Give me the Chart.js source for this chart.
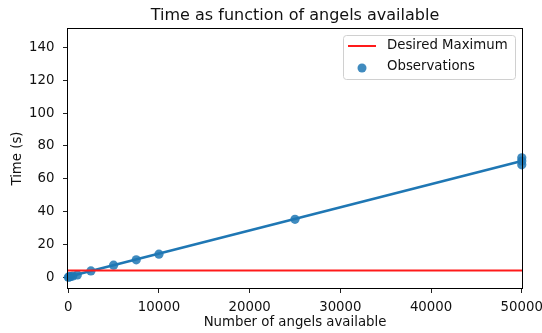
<!DOCTYPE html>
<html>
<head>
<meta charset="utf-8">
<script src="https://cdn.jsdelivr.net/npm/chart.js@4.4.1/dist/chart.umd.min.js"></script>
<style>
  html, body { margin: 0; padding: 0; background: #fff; }
  #wrap { width: 542px; height: 333px; }
</style>
</head>
<body>
<div id="wrap"><canvas id="c" width="542" height="333"></canvas></div>
<script>
// ---- data ----
const angels = [10, 100, 250, 500, 1000, 2500, 5000, 7500, 10000, 25000, 50000, 50000, 50000];
const times  = [0.0, 0.15, 0.35, 0.7, 1.4, 3.8, 7.3, 10.6, 14.0, 35.3, 68.5, 70.8, 72.8];
const fitX = [0, 50000];
const fitY = [0.2, 70.8];
const desiredMax = 4;
const xTicks = [0, 10000, 20000, 30000, 40000, 50000];
const yTicks = [0, 20, 40, 60, 80, 100, 120, 140];
const xRange = [-80, 50080];
const yRange = [-6.9, 151.6];
const labels = { title: 'Time as function of angels available', x: 'Number of angels available', y: 'Time (s)', legendLine: 'Desired Maximum', legendDots: 'Observations' };

const FONT = "'DejaVu Sans', sans-serif";
const FS = 13.3;
const BLUE = '#1f77b4';
const DOT = 'rgba(31,119,180,0.85)';
const RED = '#ff1a1a';

const scatterPts = angels.map((a, i) => ({ x: a, y: times[i] }));
const fitPts = fitX.map((a, i) => ({ x: a, y: fitY[i] }));
const redPts = xRange.map(a => ({ x: a, y: desiredMax }));

const framePlugin = {
  id: 'frameAndLegend',
  afterDraw(chart) {
    const { ctx, chartArea: a } = chart;
    ctx.save();
    ctx.strokeStyle = '#000';
    ctx.lineWidth = 1;
    ctx.strokeRect(a.left, a.top, a.right - a.left, a.bottom - a.top);

    // legend box (upper right, inside plot)
    const bx = 343.5, by = 35.5, bw = 172, bh = 44;
    const r = 3;
    ctx.beginPath();
    ctx.moveTo(bx + r, by);
    ctx.lineTo(bx + bw - r, by);
    ctx.arcTo(bx + bw, by, bx + bw, by + r, r);
    ctx.lineTo(bx + bw, by + bh - r);
    ctx.arcTo(bx + bw, by + bh, bx + bw - r, by + bh, r);
    ctx.lineTo(bx + r, by + bh);
    ctx.arcTo(bx, by + bh, bx, by + bh - r, r);
    ctx.lineTo(bx, by + r);
    ctx.arcTo(bx, by, bx + r, by, r);
    ctx.closePath();
    ctx.fillStyle = 'rgba(255,255,255,0.8)';
    ctx.fill();
    ctx.strokeStyle = '#d0d0d0';
    ctx.stroke();

    ctx.strokeStyle = RED;
    ctx.lineWidth = 2;
    ctx.beginPath();
    ctx.moveTo(348, 46);
    ctx.lineTo(376, 46);
    ctx.stroke();

    ctx.fillStyle = DOT;
    ctx.beginPath();
    ctx.arc(362, 68, 4.5, 0, Math.PI * 2);
    ctx.fill();

    ctx.fillStyle = '#111';
    ctx.font = FS + 'px ' + FONT;
    ctx.textBaseline = 'middle';
    ctx.textAlign = 'left';
    ctx.fillText(labels.legendLine, 387, 46);
    ctx.fillText(labels.legendDots, 387, 67);
    ctx.restore();
  }
};

new Chart(document.getElementById('c'), {
  type: 'scatter',
  data: {
    datasets: [
      { label: labels.legendLine, type: 'line', data: redPts, borderColor: RED, borderWidth: 2, pointRadius: 0, fill: false },
      { label: 'fit', type: 'line', data: fitPts, borderColor: BLUE, borderWidth: 2.6, pointRadius: 0, fill: false },
      { label: labels.legendDots, data: scatterPts, backgroundColor: DOT, borderWidth: 0, pointRadius: 4.6, clip: false }
    ]
  },
  options: {
    responsive: false,
    animation: false,
    devicePixelRatio: 1,
    layout: { padding: { left: 0, right: 19.5, top: 0, bottom: 0 } },
    plugins: {
      legend: { display: false },
      tooltip: { enabled: false },
      title: {
        display: true,
        text: labels.title,
        fullSize: false,
        color: '#111',
        font: { family: FONT, size: 16, weight: 'normal', lineHeight: 1.2 },
        padding: { top: 6.1, bottom: 3.2 }
      }
    },
    scales: {
      x: {
        type: 'linear',
        min: xRange[0], max: xRange[1],
        afterFit(s) { s.height = 44.5; s.paddingLeft = 0; s.paddingRight = 0; },
        afterBuildTicks(s) { s.ticks = xTicks.map(v => ({ value: v })); },
        ticks: { includeBounds: false, color: '#111', padding: 7, maxRotation: 0,
                 font: { family: FONT, size: FS }, callback: v => String(v) },
        grid: { drawOnChartArea: false, drawTicks: true, tickLength: 4.5, tickColor: '#222', tickWidth: 1 },
        border: { display: true, color: '#000', width: 1 },
        title: { display: true, text: labels.x, color: '#111', font: { family: FONT, size: FS, lineHeight: 1.2 }, padding: { top: 0, bottom: 2.3 } }
      },
      y: {
        type: 'linear',
        min: yRange[0], max: yRange[1],
        afterFit(s) { s.width = 67.5; s.paddingTop = 0; s.paddingBottom = 0; },
        afterBuildTicks(s) { s.ticks = yTicks.map(v => ({ value: v })); },
        ticks: { includeBounds: false, color: '#111', padding: 8.5,
                 font: { family: FONT, size: FS }, callback: v => String(v) },
        grid: { drawOnChartArea: false, drawTicks: true, tickLength: 4.5, tickColor: '#222', tickWidth: 1 },
        border: { display: true, color: '#000', width: 1 },
        title: { display: true, text: labels.y, color: '#111', font: { family: FONT, size: FS, lineHeight: 1.2 }, padding: { top: 9.5, bottom: 0 } }
      }
    }
  },
  plugins: [framePlugin]
});
</script>
</body>
</html>
